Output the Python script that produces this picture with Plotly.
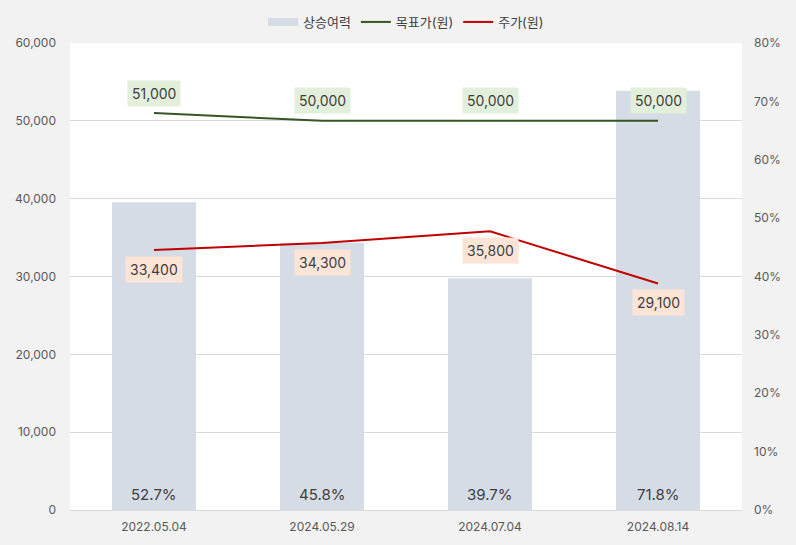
import plotly.graph_objects as go

dates = ["2022.05.04", "2024.05.29", "2024.07.04", "2024.08.14"]
upside = [52.7, 45.8, 39.7, 71.8]
target = [51000, 50000, 50000, 50000]
price = [33400, 34300, 35800, 29100]

FONT = "Inter, 'Noto Sans CJK KR', sans-serif"
BAR_COLOR = "#d6dce5"

fig = go.Figure()
fig.add_trace(go.Bar(
    x=dates, y=upside, name="상승여력", yaxis="y", showlegend=False,
    marker=dict(color=BAR_COLOR, line=dict(width=0)),
    width=0.5, hoverinfo="x+y",
))
# legend stand-in for the bars (wide swatch)
fig.add_trace(go.Scatter(
    x=[dates[0]], y=[None], name="상승여력", mode="lines", yaxis="y",
    line=dict(color=BAR_COLOR, width=8), legendrank=1,
))
fig.add_trace(go.Scatter(
    x=dates, y=target, name="목표가(원)", mode="lines", yaxis="y2",
    line=dict(color="#375623", width=2), legendrank=2,
))
fig.add_trace(go.Scatter(
    x=dates, y=price, name="주가(원)", mode="lines", yaxis="y2",
    line=dict(color="#c00000", width=2), legendrank=3,
))

annotations = []
for d, v in zip(dates, target):
    annotations.append(dict(
        x=d, y=v, xref="x", yref="y2", text=f"{v:,}", showarrow=False,
        yshift=20, bgcolor="#e2efda", borderpad=4,
        font=dict(size=14, color="#404040", family=FONT),
    ))
for d, v in zip(dates, price):
    annotations.append(dict(
        x=d, y=v, xref="x", yref="y2", text=f"{v:,}", showarrow=False,
        yshift=-19, bgcolor="#fce4d6", borderpad=4,
        font=dict(size=14, color="#404040", family=FONT),
    ))
for d, v in zip(dates, upside):
    annotations.append(dict(
        x=d, y=0, xref="x", yref="y", text=f"{v:.1f}%", showarrow=False,
        yanchor="middle", yshift=16,
        font=dict(size=15, color="#404040", family=FONT),
    ))

fig.update_layout(
    width=796, height=545,
    margin=dict(l=70, r=54, t=43, b=35, autoexpand=False),
    paper_bgcolor="#f2f2f2", plot_bgcolor="#ffffff",
    font=dict(family=FONT, color="#595959", size=12),
    showlegend=True,
    legend=dict(orientation="h", x=0.5, xanchor="center", y=1.045, yanchor="middle",
                font=dict(size=13, color="#404040"), bgcolor="rgba(0,0,0,0)",
                traceorder="normal"),
    xaxis=dict(type="category", categoryorder="array", categoryarray=dates,
               showgrid=False, showline=True, linecolor="#d9d9d9", ticks="",
               ticklabelstandoff=6, tickfont=dict(size=12, color="#595959")),
    yaxis=dict(range=[0, 80], dtick=10, ticksuffix="%", side="right",
               showgrid=False, zeroline=False, ticks="", ticklabelstandoff=11,
               tickfont=dict(size=12, color="#595959")),
    yaxis2=dict(range=[0, 60000], dtick=10000, tickformat=",", side="left",
                overlaying="y", showgrid=True, gridcolor="#d9d9d9", zeroline=False,
                ticks="", ticklabelstandoff=13,
                tickfont=dict(size=12, color="#595959")),
    annotations=annotations,
)

fig.write_html(
    "out.html",
    config={"displayModeBar": False},
    post_script="document.body.style.margin='0';document.body.style.background='#f2f2f2';",
)
